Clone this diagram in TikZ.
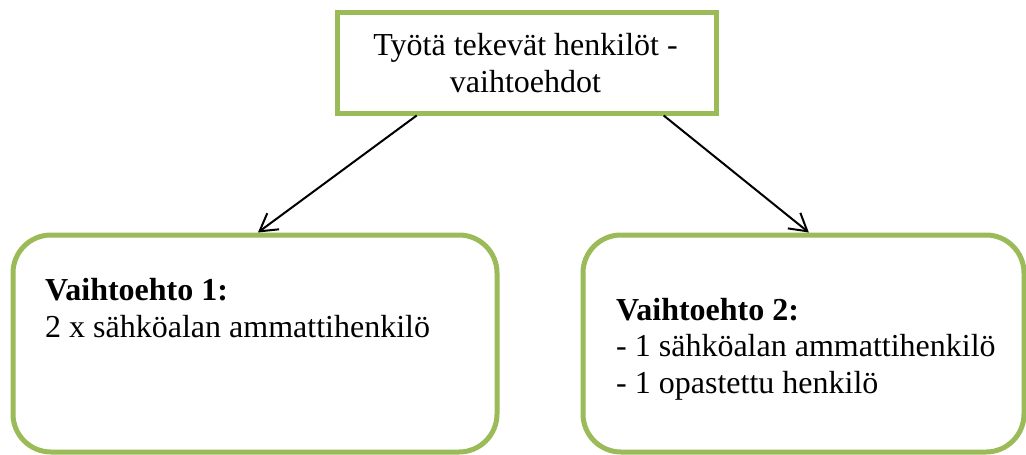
\documentclass[tikz,border=0pt]{standalone}
\usepackage{fontspec}
\setmainfont{Liberation Serif}
\usetikzlibrary{arrows.meta,calc}
\definecolor{boxgreen}{HTML}{9BBB59}
\begin{document}
\begin{tikzpicture}[x=1pt,y=-1pt,
  greenbox/.style={draw=boxgreen,line width=5pt,fill=white,inner sep=0pt},
  roundbox/.style={greenbox,rounded corners=38pt},
  txt/.style={anchor=base west,inner sep=0pt,font=\fontsize{32}{36}\selectfont},
  conn/.style={line width=2pt,-{Straight Barb[length=17pt,width=20pt,line width=2pt]}}]
\useasboundingbox (0,0) rectangle (1026,455);
\node[greenbox,minimum width=378.5pt,minimum height=101pt] (top) at (526.75,62.5) {};
\node[roundbox,minimum width=484pt,minimum height=217pt] (left) at (255,343.5) {};
\node[roundbox,minimum width=441pt,minimum height=217pt] (right) at (803.5,343.5) {};
\node[anchor=base,inner sep=0pt,font=\fontsize{32}{36}\selectfont] (t1) at (525.5,55) {Työtä tekevät henkilöt -};
\node[anchor=base,inner sep=0pt,font=\fontsize{32}{36}\selectfont] (t2) at (525.5,92) {vaihtoehdot};
\node[txt] (l1) at (45,300) {\textbf{Vaihtoehto 1:}};
\node[txt] (l2) at (45,337) {2 x sähköalan ammattihenkilö};
\node[txt] (r1) at (616,320) {\textbf{Vaihtoehto 2:}};
\node[txt] (r2) at (616,356) {- 1 sähköalan ammattihenkilö};
\node[txt] (r3) at (616,393) {- 1 opastettu henkilö};
\draw[conn] ($(top.south west)!0.213!(top.south east)$) -- ($(left.north west)!0.506!(left.north east)$);
\draw[conn] ($(top.south west)!0.857!(top.south east)$) -- ($(right.north west)!0.512!(right.north east)$);
\end{tikzpicture}
\end{document}
